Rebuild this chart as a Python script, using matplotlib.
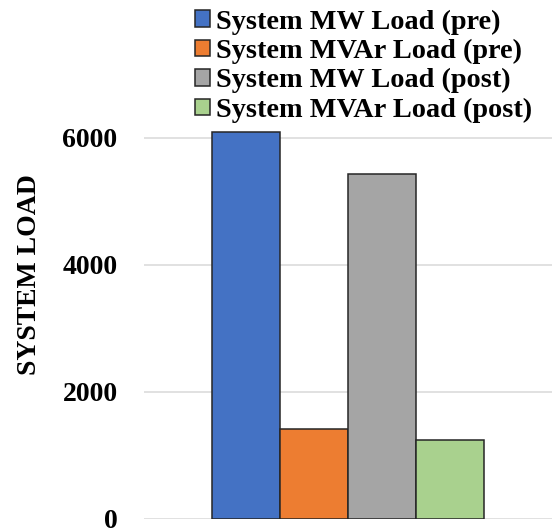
import matplotlib
matplotlib.use("Agg")
import matplotlib.pyplot as plt
from matplotlib.patches import Patch

series = ["System MW Load (pre)", "System MVAr Load (pre)",
          "System MW Load (post)", "System MVAr Load (post)"]
values = [6090, 1410, 5420, 1230]
colors = ["#4472C4", "#ED7D31", "#A5A5A5", "#A9D18E"]
yticks = [0, 2000, 4000, 6000]

plt.rcParams['font.family'] = ['Liberation Serif', 'DejaVu Serif']
plt.rcParams['font.weight'] = 'bold'

fig = plt.figure(figsize=(5.52, 5.31), dpi=100)
W, H = 552, 531
left, right = 144, 552
bottom_px, top_px = 518.5, 124.8
ax = fig.add_axes([left / W, (H - bottom_px) / H, (right - left) / W, (bottom_px - top_px) / H])

n = len(values)
w = (2 / 3) / n
for i, (v, c) in enumerate(zip(values, colors)):
    x = -1 / 3 + w * (i + 0.5)
    ax.bar(x, v, width=w, color=c, edgecolor="#262626", linewidth=1.1, zorder=3)

ax.set_xlim(-0.5, 0.5)
ax.set_ylim(0, 6200)
ax.set_yticks(yticks)
ax.set_yticklabels([str(t) for t in yticks], fontsize=20, fontweight='bold')
ax.set_xticks([])
ax.tick_params(axis='y', length=0, pad=19)
ax.grid(axis='y', color="#D9D9D9", linewidth=1.1, zorder=0)
for s in ax.spines.values():
    s.set_visible(False)

ax.set_ylabel("SYSTEM LOAD", fontsize=20, fontweight='bold')
ax.yaxis.set_label_coords(-0.25, 0.619)

handles = [Patch(facecolor=c, edgecolor="#262626", linewidth=1.1) for c in colors]
fig.legend(handles, series, loc='upper left', bbox_to_anchor=(195 / W, 1 - 9.5 / H),
           frameon=False, prop={'weight': 'bold', 'size': 20.3},
           handlelength=0.53, handleheight=0.53, handletextpad=0.21,
           labelspacing=0.15, borderpad=0, borderaxespad=0)

fig.savefig("out.png", dpi=100)
